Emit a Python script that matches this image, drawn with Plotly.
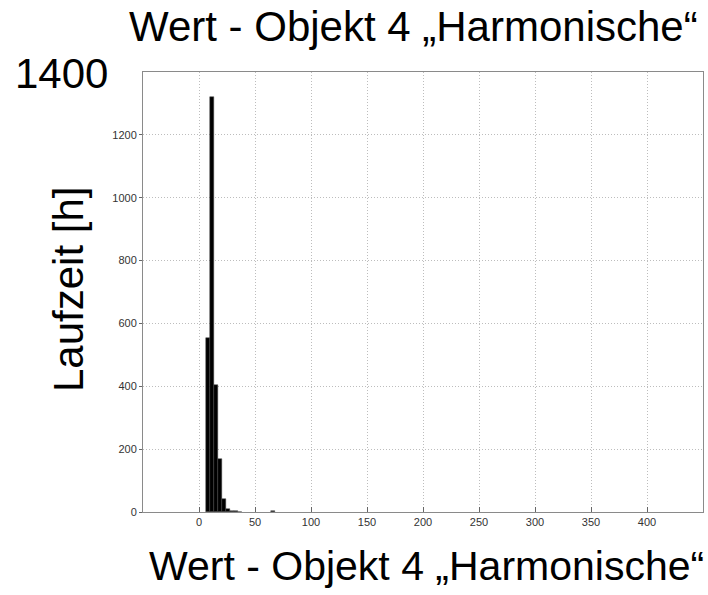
import plotly.graph_objects as go

# Histogram bins (centres) and run time per bin in hours
bin_centers = [8.0, 11.6, 15.2, 18.8, 22.4, 26.0, 29.6, 33.2, 36.8, 66.0]
hours = [555, 1320, 405, 168, 42, 10, 3, 2, 1, 3]
bin_width = 3.6

x_ticks = [0, 50, 100, 150, 200, 250, 300, 350, 400]
y_ticks = [0, 200, 400, 600, 800, 1000, 1200]

title_text = "Wert - Objekt 4 „Harmonische“"
y_label = "Laufzeit [h]"
top_tick_label = "1400"

W, H = 708, 595
L, R, T, B = 143, 5, 72, 83
plot_w = W - L - R
plot_h = H - T - B


def px_x(px):
    return (px - L) / plot_w


def px_y(py):
    return (H - B - py) / plot_h


fig = go.Figure()
fig.add_trace(go.Bar(
    x=bin_centers,
    y=hours,
    width=bin_width,
    marker=dict(color="black", line=dict(color="#444", width=0.5)),
    showlegend=False,
))

big_font = dict(family="Liberation Sans, Arial, sans-serif", size=42, color="black")
label_font = dict(family="Liberation Sans, Arial, sans-serif", size=41, color="black")
tick_font = dict(family="Liberation Sans, Arial, sans-serif", size=11, color="#333")

axis_style = dict(
    showline=True,
    linecolor="#8a8a8a",
    linewidth=1,
    mirror=True,
    showgrid=True,
    gridcolor="#bdbdbd",
    griddash="1px,2px",
    gridwidth=1,
    zeroline=False,
    tickcolor="#666",
    tickfont=tick_font,
)

fig.update_layout(
    width=W,
    height=H,
    margin=dict(l=L, r=R, t=T, b=B),
    paper_bgcolor="white",
    plot_bgcolor="white",
    bargap=0,
    xaxis=dict(range=[-50, 450], tickvals=x_ticks, ticks="inside", ticklen=5,
               **axis_style),
    yaxis=dict(range=[0, 1400], tickvals=y_ticks, ticks="outside", ticklen=3,
               **axis_style),
    annotations=[
        dict(text=title_text, xref="paper", yref="paper",
             x=px_x(413), y=px_y(27), xanchor="center", yanchor="middle",
             showarrow=False, font=big_font),
        dict(text=title_text, xref="paper", yref="paper",
             x=px_x(426), y=px_y(566), xanchor="center", yanchor="middle",
             showarrow=False, font=label_font),
        dict(text=y_label, xref="paper", yref="paper",
             x=px_x(68), y=px_y(290), xanchor="center", yanchor="middle",
             textangle=-90, showarrow=False, font=big_font),
        dict(text=top_tick_label, xref="paper", yref="paper",
             x=px_x(61), y=px_y(73), xanchor="center", yanchor="middle",
             showarrow=False, font=big_font),
    ],
)

fig.write_html("out.html")
